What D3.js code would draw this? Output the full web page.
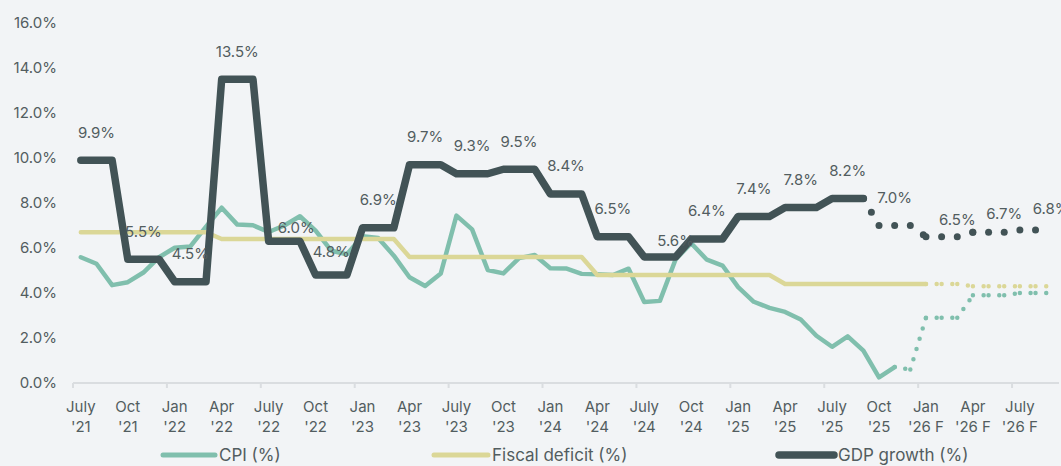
<!DOCTYPE html>
<html>
<head>
<meta charset="utf-8">
<script src="https://cdn.jsdelivr.net/npm/d3@7"></script>
<style>
  body { margin: 0; background: #f2f4f6; }
  svg { display: block; font-family: Inter, "Noto Sans", sans-serif; }
</style>
</head>
<body>
<div id="chart"></div>
<script>
// x axis labels, one every 3 months (July '21 .. July '26 F)
const tickMonths = ["July","Oct","Jan","Apr","July","Oct","Jan","Apr","July","Oct","Jan",
  "Apr","July","Oct","Jan","Apr","July","Oct","Jan","Apr","July"];
const tickYears = ["'21","'21","'22","'22","'22","'22","'23","'23","'23","'23","'24",
  "'24","'24","'24","'25","'25","'25","'25","'26 F","'26 F","'26 F"];
const monthCount = 63; // July '21 .. Sep '26

const yTicks = [0, 2, 4, 6, 8, 10, 12, 14, 16];

// CPI, monthly, actual Jul '21 - Nov '25
const cpiActual = [5.59, 5.30, 4.35, 4.48, 4.91, 5.59,
  6.01, 6.07, 6.95, 7.79, 7.04, 7.01, 6.71, 7.00, 7.41, 6.77, 5.88, 5.72,
  6.52, 6.44, 5.66, 4.70, 4.31, 4.87, 7.44, 6.83, 5.02, 4.87, 5.55, 5.69,
  5.10, 5.09, 4.85, 4.83, 4.80, 5.08, 3.60, 3.65, 5.49, 6.21, 5.48, 5.22,
  4.26, 3.61, 3.34, 3.16, 2.82, 2.10, 1.61, 2.07, 1.44, 0.25, 0.71];
// CPI forecast Dec '25 - Sep '26
const cpiForecast = [0.6, 2.9, 2.9, 2.9, 3.9, 3.9, 3.9, 4.0, 4.0, 4.0];

// Fiscal deficit, monthly, Jul '21 - Jan '26
const fiscalActual = [6.7, 6.7, 6.7, 6.7, 6.7, 6.7, 6.7, 6.7, 6.7,
  6.4, 6.4, 6.4, 6.4, 6.4, 6.4, 6.4, 6.4, 6.4, 6.4, 6.4, 6.4,
  5.6, 5.6, 5.6, 5.6, 5.6, 5.6, 5.6, 5.6, 5.6, 5.6, 5.6, 5.6,
  4.8, 4.8, 4.8, 4.8, 4.8, 4.8, 4.8, 4.8, 4.8, 4.8, 4.8, 4.8,
  4.4, 4.4, 4.4, 4.4, 4.4, 4.4, 4.4, 4.4, 4.4, 4.4];
// Fiscal deficit forecast Feb '26 - Sep '26
const fiscalForecast = [4.4, 4.4, 4.3, 4.3, 4.3, 4.3, 4.3, 4.3];

// GDP growth, quarterly (Jul-Sep '21 .. Jul-Sep '25), then forecast quarters
const gdpActual = [9.9, 5.5, 4.5, 13.5, 6.3, 4.8, 6.9, 9.7, 9.3, 9.5, 8.4, 6.5, 5.6, 6.4, 7.4, 7.8, 8.2];
const gdpForecast = [7.0, 6.5, 6.7, 6.8];
const gdpLabels = ["9.9%","5.5%","4.5%","13.5%","6.0%","4.8%","6.9%","9.7%","9.3%","9.5%","8.4%",
  "6.5%","5.6%","6.4%","7.4%","7.8%","8.2%","7.0%","6.5%","6.7%","6.8%"];

const colors = { cpi: "#80bfad", fiscal: "#dbd797", gdp: "#425356", text: "#525d60", axis: "#dadde0" };

const W = 1061, H = 466;
const svg = d3.select("#chart").append("svg").attr("width", W).attr("height", H);

const x = d3.scaleBand().domain(d3.range(monthCount)).range([73, 1059]);
const y = d3.scaleLinear().domain([0, 16]).range([383, 23]);
const cx = i => x(i) + x.bandwidth() / 2;

// series as [index, value]
const toPts = (vals, start) => vals.map((v, k) => [start + k, v]);
const gdpMonthly = d3.merge(gdpActual.map(v => [v, v, v]));
const gdpFcMonthly = d3.merge(gdpForecast.map(v => [v, v, v]));

const cpiA = toPts(cpiActual, 0);
const cpiF = toPts(cpiForecast, cpiActual.length);
const fisA = toPts(fiscalActual, 0);
const fisF = toPts(fiscalForecast, fiscalActual.length);
const gdpA = toPts(gdpMonthly, 0);
const gdpF = toPts(gdpFcMonthly, gdpMonthly.length);

// y axis labels
svg.append("g").selectAll("text").data(yTicks).join("text")
  .attr("x", 57).attr("y", d => y(d)).attr("dy", "0.35em")
  .attr("text-anchor", "end")
  .attr("fill", colors.text).attr("font-size", 15)
  .text(d => d.toFixed(1) + "%");

// x axis
const xAxis = svg.append("g");
xAxis.append("line")
  .attr("x1", x.range()[0]).attr("x2", x.range()[1])
  .attr("y1", y(0)).attr("y2", y(0))
  .attr("stroke", colors.axis).attr("stroke-width", 2);
xAxis.selectAll(".tick").data(d3.range(0, monthCount, 6)).join("line")
  .attr("class", "tick")
  .attr("x1", d => x(d)).attr("x2", d => x(d))
  .attr("y1", y(0)).attr("y2", y(0) + 5)
  .attr("stroke", colors.axis).attr("stroke-width", 2);
const xl = xAxis.selectAll(".xl").data(tickMonths).join("text")
  .attr("class", "xl")
  .attr("text-anchor", "middle")
  .attr("fill", colors.text).attr("font-size", 15);
xl.append("tspan").attr("x", (d, i) => cx(i * 3)).attr("y", 412).text(d => d);
xl.append("tspan").attr("x", (d, i) => cx(i * 3)).attr("y", 432).text((d, i) => tickYears[i]);

const line = d3.line().x(d => cx(d[0])).y(d => y(d[1]));

function solid(pts, color, width) {
  svg.append("path").datum(pts)
    .attr("d", line)
    .attr("fill", "none").attr("stroke", color).attr("stroke-width", width)
    .attr("stroke-linejoin", "round").attr("stroke-linecap", "round");
}

// dotted forecast; pattern restarts at every data point like the source chart
function dotted(pts, color, width, gap) {
  const segs = d3.pairs(pts);
  svg.append("g").selectAll("path").data(segs).join("path")
    .attr("d", line)
    .attr("fill", "none").attr("stroke", color).attr("stroke-width", width)
    .attr("stroke-linecap", "round")
    .attr("stroke-dasharray", "0 " + gap);
}

solid(cpiA, colors.cpi, 4.5);
dotted([cpiA[cpiA.length - 1]].concat(cpiF), colors.cpi, 4.5, 10.7);
solid(fisA, colors.fiscal, 4.5);
dotted([fisA[fisA.length - 1]].concat(fisF), colors.fiscal, 4.5, 10.7);
solid(gdpA, colors.gdp, 7.5);
dotted([gdpA[gdpA.length - 1]].concat(gdpF), colors.gdp, 7, 16);

// GDP data labels: middle month of each quarter, a few moved by hand
const nudge = { 4: [12, -14, 1], 5: [0, -23, 1], 12: [0, -16, 2], 18: [0, -17, 2], 19: [0, -19, 2], 20: [0, -21, 2] };
const allGdp = gdpActual.concat(gdpForecast);
svg.append("g").selectAll("text").data(allGdp).join("text")
  .attr("x", (d, q) => cx(q * 3 + (nudge[q] ? nudge[q][2] : 1)) + (nudge[q] ? nudge[q][0] : 0))
  .attr("y", (d, q) => y(d) + (nudge[q] ? nudge[q][1] : -28))
  .attr("dy", "0.35em")
  .attr("text-anchor", "middle")
  .attr("fill", colors.text).attr("font-size", 15)
  .text((d, q) => gdpLabels[q]);

// legend
const legend = [
  { name: "CPI (%)", color: colors.cpi, w: 5, x0: 163, x1: 215 },
  { name: "Fiscal deficit (%)", color: colors.fiscal, w: 5, x0: 434, x1: 488 },
  { name: "GDP growth (%)", color: colors.gdp, w: 7.5, x0: 779, x1: 834 }
];
const lg = svg.append("g").selectAll("g").data(legend).join("g");
lg.append("line")
  .attr("x1", d => d.x0).attr("x2", d => d.x1).attr("y1", 455).attr("y2", 455)
  .attr("stroke", d => d.color).attr("stroke-width", d => d.w).attr("stroke-linecap", "round");
lg.append("text")
  .attr("x", d => d.x1 + 4).attr("y", 455).attr("dy", "0.35em")
  .attr("fill", colors.text).attr("font-size", 17)
  .text(d => d.name);
</script>
</body>
</html>
